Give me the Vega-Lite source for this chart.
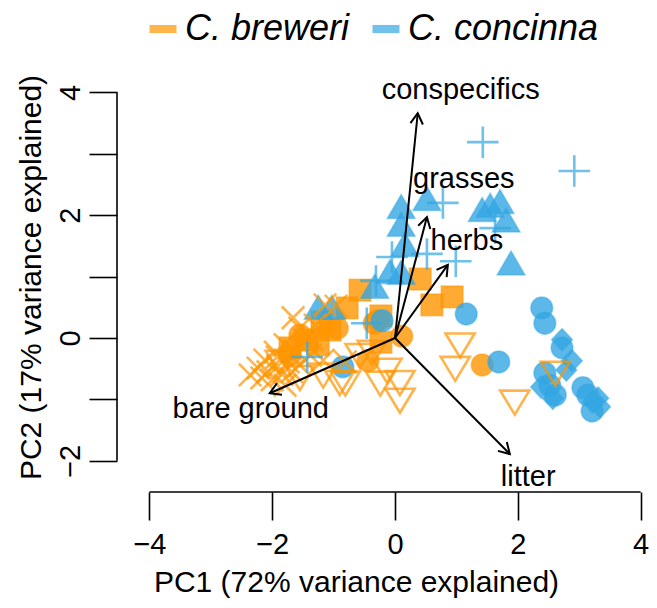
{
  "$schema": "https://vega.github.io/schema/vega-lite/v6.json",
  "width": 540,
  "height": 430,
  "autosize": {"type": "none"},
  "padding": {"left": 117, "top": 62, "right": 0, "bottom": 116},
  "background": "white",
  "config": {
    "view": {"stroke": null},
    "font": "Liberation Sans",
    "text": {"font": "Liberation Sans"}
  },
  "datasets": {
    "points": [
      {"pop": "B1", "species": "C. breweri", "pc1": 0.41, "pc2": 0.96},
      {"pop": "B1", "species": "C. breweri", "pc1": -0.57, "pc2": 0.78},
      {"pop": "B1", "species": "C. breweri", "pc1": 0.60, "pc2": 0.54},
      {"pop": "B1", "species": "C. breweri", "pc1": 0.93, "pc2": 0.67},
      {"pop": "B1", "species": "C. breweri", "pc1": -0.78, "pc2": 0.49},
      {"pop": "B1", "species": "C. breweri", "pc1": -0.23, "pc2": 0.36},
      {"pop": "B1", "species": "C. breweri", "pc1": -0.23, "pc2": -0.07},
      {"pop": "B1", "species": "C. breweri", "pc1": -1.19, "pc2": 0.26},
      {"pop": "B1", "species": "C. breweri", "pc1": -1.43, "pc2": -0.03},
      {"pop": "B1", "species": "C. breweri", "pc1": -1.06, "pc2": 0.13},
      {"pop": "B1", "species": "C. breweri", "pc1": -1.71, "pc2": -0.16},
      {"pop": "B1", "species": "C. breweri", "pc1": -1.25, "pc2": -0.11},
      {"pop": "B2", "species": "C. breweri", "pc1": -1.14, "pc2": 0.54},
      {"pop": "B2", "species": "C. breweri", "pc1": -0.96, "pc2": 0.52},
      {"pop": "B2", "species": "C. breweri", "pc1": -1.66, "pc2": 0.33},
      {"pop": "B2", "species": "C. breweri", "pc1": -1.55, "pc2": 0.16},
      {"pop": "B2", "species": "C. breweri", "pc1": -1.35, "pc2": -0.03},
      {"pop": "B2", "species": "C. breweri", "pc1": -1.17, "pc2": -0.36},
      {"pop": "B2", "species": "C. breweri", "pc1": -0.81, "pc2": -0.39},
      {"pop": "B2", "species": "C. breweri", "pc1": -1.38, "pc2": -0.28},
      {"pop": "B2", "species": "C. breweri", "pc1": -1.63, "pc2": -0.20},
      {"pop": "B2", "species": "C. breweri", "pc1": -1.79, "pc2": -0.11},
      {"pop": "B2", "species": "C. breweri", "pc1": -1.95, "pc2": -0.23},
      {"pop": "B2", "species": "C. breweri", "pc1": -2.12, "pc2": -0.36},
      {"pop": "B2", "species": "C. breweri", "pc1": -2.23, "pc2": -0.49},
      {"pop": "B2", "species": "C. breweri", "pc1": -2.07, "pc2": -0.55},
      {"pop": "B2", "species": "C. breweri", "pc1": -1.91, "pc2": -0.46},
      {"pop": "B2", "species": "C. breweri", "pc1": -1.74, "pc2": -0.39},
      {"pop": "B2", "species": "C. breweri", "pc1": -1.84, "pc2": -0.59},
      {"pop": "B2", "species": "C. breweri", "pc1": -2.00, "pc2": -0.68},
      {"pop": "B2", "species": "C. breweri", "pc1": -2.17, "pc2": -0.65},
      {"pop": "B2", "species": "C. breweri", "pc1": -1.68, "pc2": -0.55},
      {"pop": "B2", "species": "C. breweri", "pc1": -1.55, "pc2": -0.44},
      {"pop": "B2", "species": "C. breweri", "pc1": -1.92, "pc2": -0.31},
      {"pop": "B2", "species": "C. breweri", "pc1": -1.79, "pc2": -0.77},
      {"pop": "B2", "species": "C. breweri", "pc1": -2.36, "pc2": -0.60},
      {"pop": "B2", "species": "C. breweri", "pc1": -1.47, "pc2": -0.03},
      {"pop": "B2", "species": "C. breweri", "pc1": -1.30, "pc2": 0.21},
      {"pop": "B3", "species": "C. breweri", "pc1": 1.06, "pc2": -0.11},
      {"pop": "B3", "species": "C. breweri", "pc1": 0.98, "pc2": -0.49},
      {"pop": "B3", "species": "C. breweri", "pc1": 1.95, "pc2": -1.04},
      {"pop": "B3", "species": "C. breweri", "pc1": 2.61, "pc2": -0.57},
      {"pop": "B3", "species": "C. breweri", "pc1": -0.81, "pc2": -0.73},
      {"pop": "B3", "species": "C. breweri", "pc1": -0.37, "pc2": -0.23},
      {"pop": "B3", "species": "C. breweri", "pc1": -0.13, "pc2": -0.52},
      {"pop": "B3", "species": "C. breweri", "pc1": 0.08, "pc2": -0.72},
      {"pop": "B3", "species": "C. breweri", "pc1": 0.08, "pc2": -1.01},
      {"pop": "B3", "species": "C. breweri", "pc1": -1.17, "pc2": -0.60},
      {"pop": "B3", "species": "C. breweri", "pc1": -0.90, "pc2": -0.72},
      {"pop": "B3", "species": "C. breweri", "pc1": -0.24, "pc2": -0.73},
      {"pop": "B3", "species": "C. breweri", "pc1": -1.55, "pc2": -0.64},
      {"pop": "B3", "species": "C. breweri", "pc1": -1.87, "pc2": -0.39},
      {"pop": "B3", "species": "C. breweri", "pc1": -0.57, "pc2": -0.28},
      {"pop": "B4", "species": "C. breweri", "pc1": -0.34, "pc2": 0.24},
      {"pop": "B4", "species": "C. breweri", "pc1": -0.28, "pc2": 0.28},
      {"pop": "B4", "species": "C. breweri", "pc1": 0.11, "pc2": 0.03},
      {"pop": "B4", "species": "C. breweri", "pc1": -0.44, "pc2": -0.37},
      {"pop": "B4", "species": "C. breweri", "pc1": 1.42, "pc2": -0.44},
      {"pop": "B4", "species": "C. breweri", "pc1": -0.94, "pc2": 0.16},
      {"pop": "B4", "species": "C. breweri", "pc1": -1.71, "pc2": -0.28},
      {"pop": "B4", "species": "C. breweri", "pc1": -1.55, "pc2": 0.05},
      {"pop": "C1", "species": "C. concinna", "pc1": 0.10, "pc2": 2.13},
      {"pop": "C1", "species": "C. concinna", "pc1": 0.10, "pc2": 1.84},
      {"pop": "C1", "species": "C. concinna", "pc1": 0.16, "pc2": 1.51},
      {"pop": "C1", "species": "C. concinna", "pc1": 0.52, "pc2": 2.26},
      {"pop": "C1", "species": "C. concinna", "pc1": 1.42, "pc2": 2.08},
      {"pop": "C1", "species": "C. concinna", "pc1": 1.55, "pc2": 2.15},
      {"pop": "C1", "species": "C. concinna", "pc1": 1.71, "pc2": 2.21},
      {"pop": "C1", "species": "C. concinna", "pc1": 1.81, "pc2": 1.91},
      {"pop": "C1", "species": "C. concinna", "pc1": 1.89, "pc2": 1.21},
      {"pop": "C1", "species": "C. concinna", "pc1": -0.08, "pc2": 1.07},
      {"pop": "C1", "species": "C. concinna", "pc1": 0.10, "pc2": 1.06},
      {"pop": "C1", "species": "C. concinna", "pc1": -0.33, "pc2": 0.83},
      {"pop": "C1", "species": "C. concinna", "pc1": -1.25, "pc2": 0.49},
      {"pop": "C1", "species": "C. concinna", "pc1": -1.03, "pc2": 0.49},
      {"pop": "C2", "species": "C. concinna", "pc1": 1.43, "pc2": 3.19},
      {"pop": "C2", "species": "C. concinna", "pc1": 2.92, "pc2": 2.72},
      {"pop": "C2", "species": "C. concinna", "pc1": 0.78, "pc2": 2.20},
      {"pop": "C2", "species": "C. concinna", "pc1": 1.63, "pc2": 1.79},
      {"pop": "C2", "species": "C. concinna", "pc1": 0.99, "pc2": 1.25},
      {"pop": "C2", "species": "C. concinna", "pc1": 0.52, "pc2": 1.37},
      {"pop": "C2", "species": "C. concinna", "pc1": -0.05, "pc2": 1.32},
      {"pop": "C2", "species": "C. concinna", "pc1": -0.31, "pc2": 0.93},
      {"pop": "C2", "species": "C. concinna", "pc1": -0.46, "pc2": 0.24},
      {"pop": "C2", "species": "C. concinna", "pc1": -1.43, "pc2": -0.31},
      {"pop": "C3", "species": "C. concinna", "pc1": 1.16, "pc2": 0.39},
      {"pop": "C3", "species": "C. concinna", "pc1": 2.39, "pc2": 0.49},
      {"pop": "C3", "species": "C. concinna", "pc1": 2.44, "pc2": 0.24},
      {"pop": "C3", "species": "C. concinna", "pc1": 2.72, "pc2": -0.16},
      {"pop": "C3", "species": "C. concinna", "pc1": 1.69, "pc2": -0.39},
      {"pop": "C3", "species": "C. concinna", "pc1": 2.44, "pc2": -0.57},
      {"pop": "C3", "species": "C. concinna", "pc1": 2.61, "pc2": -0.93},
      {"pop": "C3", "species": "C. concinna", "pc1": 3.06, "pc2": -0.81},
      {"pop": "C3", "species": "C. concinna", "pc1": 3.21, "pc2": -1.19},
      {"pop": "C3", "species": "C. concinna", "pc1": -0.85, "pc2": -0.47},
      {"pop": "C3", "species": "C. concinna", "pc1": -0.21, "pc2": 0.28},
      {"pop": "C3", "species": "C. concinna", "pc1": 3.14, "pc2": -0.93},
      {"pop": "C3", "species": "C. concinna", "pc1": 2.52, "pc2": -0.77},
      {"pop": "C4", "species": "C. concinna", "pc1": 2.72, "pc2": -0.03},
      {"pop": "C4", "species": "C. concinna", "pc1": 2.88, "pc2": -0.37},
      {"pop": "C4", "species": "C. concinna", "pc1": 2.79, "pc2": -0.52},
      {"pop": "C4", "species": "C. concinna", "pc1": 2.38, "pc2": -0.80},
      {"pop": "C4", "species": "C. concinna", "pc1": 2.57, "pc2": -0.98},
      {"pop": "C4", "species": "C. concinna", "pc1": 3.31, "pc2": -0.98},
      {"pop": "C4", "species": "C. concinna", "pc1": 3.34, "pc2": -1.12},
      {"pop": "C4", "species": "C. concinna", "pc1": 3.22, "pc2": -1.04}
    ],
    "arrows": [
      {"name": "conspecifics", "ax": 0.37, "ay": 3.66, "lx": 1.07, "ly": 4.04},
      {"name": "grasses", "ax": 0.52, "ay": 1.97, "lx": 1.12, "ly": 2.59},
      {"name": "herbs", "ax": 0.86, "ay": 1.19, "lx": 1.17, "ly": 1.58},
      {"name": "bare ground", "ax": -2.04, "ay": -0.90, "lx": -2.35, "ly": -1.16},
      {"name": "litter", "ax": 1.87, "ay": -1.89, "lx": 2.17, "ly": -2.26}
    ],
    "axislines": [
      {"x1": -4, "x2": 4, "y1": -2.508, "y2": -2.508},
      {"x1": -4.528, "x2": -4.528, "y1": -2, "y2": 4}
    ]
  },
  "layer": [
    {
      "data": {"name": "points"},
      "transform": [{"filter": "indexof(['B2','B3','C2'], datum.pop) < 0"}],
      "mark": {"type": "point", "filled": true, "size": 900, "fillOpacity": 0.8, "strokeOpacity": 0.45, "strokeWidth": 1.5},
      "encoding": {
        "x": {"field": "pc1", "type": "quantitative", "scale": {"domain": [-4.528, 4.267], "nice": false, "zero": false},
          "axis": {"values": [-4, -2, 0, 2, 4], "format": "d", "domain": false, "grid": false, "tickSize": 28, "tickWidth": 1.6, "tickColor": "black",
            "labelFontSize": 29, "labelFont": "Liberation Sans", "labelColor": "black", "labelPadding": 10, "labelFlush": false, "labelOverlap": false,
            "title": "PC1 (72% variance explained)", "titleFontSize": 30, "titleFont": "Liberation Sans", "titleFontWeight": "normal", "titleColor": "black", "titlePadding": 8, "titleX": 239}},
        "y": {"field": "pc2", "type": "quantitative", "scale": {"domain": [-2.508, 4.495], "nice": false, "zero": false},
          "axis": {"values": [-2, -1, 0, 1, 2, 3, 4], "format": "d", "labelExpr": "datum.value % 2 === 0 ? datum.label : ''", "domain": false, "grid": false, "tickSize": 28, "tickWidth": 1.6, "tickColor": "black",
            "labelFontSize": 29, "labelFont": "Liberation Sans", "labelColor": "black", "labelAngle": -90, "labelAlign": "center", "labelBaseline": "bottom", "labelPadding": 4, "labelFlush": false, "labelOverlap": false,
            "title": "PC2 (17% variance explained)", "titleFontSize": 30, "titleFont": "Liberation Sans", "titleFontWeight": "normal", "titleColor": "black", "titlePadding": 10}},
        "color": {"field": "species", "type": "nominal", "scale": {"domain": ["C. breweri", "C. concinna"], "range": ["#FF9500", "#33A6E2"]},
          "legend": {"orient": "none", "legendX": 28, "legendY": -51, "direction": "horizontal", "title": null, "padding": 0,
            "symbolType": "M-1,-0.3H1V0.3H-1Z", "symbolSize": 729, "symbolOpacity": 0.65, "symbolStrokeWidth": 0,
            "labelFontSize": 36, "labelFont": "Liberation Sans", "labelFontStyle": "italic", "labelColor": "black", "labelOffset": 4, "labelLimit": 400, "columnPadding": 18}},
        "stroke": {"field": "species", "type": "nominal", "scale": {"domain": ["C. breweri", "C. concinna"], "range": ["#FF9500", "#33A6E2"]}, "legend": null},
        "shape": {"field": "pop", "type": "nominal", "legend": null,
          "scale": {"domain": ["B1", "B2", "B3", "B4", "C1", "C2", "C3", "C4"],
            "range": [
              "M-0.73,-0.73H0.73V0.73H-0.73Z",
              "M-0.75,-0.75L0.75,0.75M-0.75,0.75L0.75,-0.75",
              "M0,0.85L0.97,-0.75L-0.97,-0.75Z",
              "M0.73,0A0.73,0.73,0,1,1,-0.73,0A0.73,0.73,0,1,1,0.73,0Z",
              "M0,-0.85L0.93,0.75L-0.93,0.75Z",
              "M-1.05,0H1.05M0,-1.05V1.05",
              "M0.73,0A0.73,0.73,0,1,1,-0.73,0A0.73,0.73,0,1,1,0.73,0Z",
              "M0,-0.75L0.7,0L0,0.75L-0.7,0Z"
            ]}}
      }
    },
    {
      "data": {"name": "points"},
      "transform": [{"filter": "indexof(['B2','B3','C2'], datum.pop) >= 0"}],
      "mark": {"type": "point", "filled": false, "size": 900, "strokeWidth": 2.6, "opacity": 0.7},
      "encoding": {
        "x": {"field": "pc1", "type": "quantitative", "scale": {"domain": [-4.528, 4.267], "nice": false, "zero": false}},
        "y": {"field": "pc2", "type": "quantitative", "scale": {"domain": [-2.508, 4.495], "nice": false, "zero": false}},
        "color": {"field": "species", "type": "nominal", "scale": {"domain": ["C. breweri", "C. concinna"], "range": ["#FF9500", "#33A6E2"]}},
        "shape": {"field": "pop", "type": "nominal", "legend": null,
          "scale": {"domain": ["B1", "B2", "B3", "B4", "C1", "C2", "C3", "C4"],
            "range": [
              "M-0.73,-0.73H0.73V0.73H-0.73Z",
              "M-0.75,-0.75L0.75,0.75M-0.75,0.75L0.75,-0.75",
              "M0,0.85L0.97,-0.75L-0.97,-0.75Z",
              "M0.73,0A0.73,0.73,0,1,1,-0.73,0A0.73,0.73,0,1,1,0.73,0Z",
              "M0,-0.85L0.93,0.75L-0.93,0.75Z",
              "M-1.05,0H1.05M0,-1.05V1.05",
              "M0.73,0A0.73,0.73,0,1,1,-0.73,0A0.73,0.73,0,1,1,0.73,0Z",
              "M0,-0.75L0.7,0L0,0.75L-0.7,0Z"
            ]}}
      }
    },
    {
      "mark": {"type": "rule", "color": "#666666", "strokeWidth": 1.6, "strokeDash": [2, 7]},
      "encoding": {"y": {"datum": 0, "type": "quantitative", "scale": {"domain": [-2.508, 4.495], "nice": false, "zero": false}}}
    },
    {
      "mark": {"type": "rule", "color": "#666666", "strokeWidth": 1.6, "strokeDash": [2, 7]},
      "encoding": {"x": {"datum": 0, "type": "quantitative", "scale": {"domain": [-4.528, 4.267], "nice": false, "zero": false}}}
    },
    {
      "data": {"name": "axislines"},
      "mark": {"type": "rule", "color": "black", "strokeWidth": 1.6},
      "encoding": {
        "x": {"field": "x1", "type": "quantitative", "scale": {"domain": [-4.528, 4.267], "nice": false, "zero": false}},
        "x2": {"field": "x2"},
        "y": {"field": "y1", "type": "quantitative", "scale": {"domain": [-2.508, 4.495], "nice": false, "zero": false}},
        "y2": {"field": "y2"}
      }
    },
    {
      "data": {"name": "arrows"},
      "mark": {"type": "rule", "color": "black", "strokeWidth": 2},
      "encoding": {
        "x": {"field": "ax", "type": "quantitative", "scale": {"domain": [-4.528, 4.267], "nice": false, "zero": false}},
        "y": {"field": "ay", "type": "quantitative", "scale": {"domain": [-2.508, 4.495], "nice": false, "zero": false}},
        "x2": {"datum": 0},
        "y2": {"datum": 0}
      }
    },
    {
      "data": {"name": "arrows"},
      "transform": [{"calculate": "90 - atan2(datum.ay, datum.ax) * 180 / PI", "as": "angle"}],
      "mark": {"type": "point", "filled": false, "shape": "M-0.5,0.85L0,0L0.5,0.85", "size": 625, "stroke": "black", "strokeWidth": 2, "opacity": 1},
      "encoding": {
        "x": {"field": "ax", "type": "quantitative", "scale": {"domain": [-4.528, 4.267], "nice": false, "zero": false}},
        "y": {"field": "ay", "type": "quantitative", "scale": {"domain": [-2.508, 4.495], "nice": false, "zero": false}},
        "angle": {"field": "angle", "type": "quantitative", "scale": null}
      }
    },
    {
      "data": {"name": "arrows"},
      "mark": {"type": "text", "fontSize": 29, "font": "Liberation Sans", "color": "black", "align": "center", "baseline": "middle"},
      "encoding": {
        "x": {"field": "lx", "type": "quantitative", "scale": {"domain": [-4.528, 4.267], "nice": false, "zero": false}},
        "y": {"field": "ly", "type": "quantitative", "scale": {"domain": [-2.508, 4.495], "nice": false, "zero": false}},
        "text": {"field": "name"}
      }
    }
  ]
}
